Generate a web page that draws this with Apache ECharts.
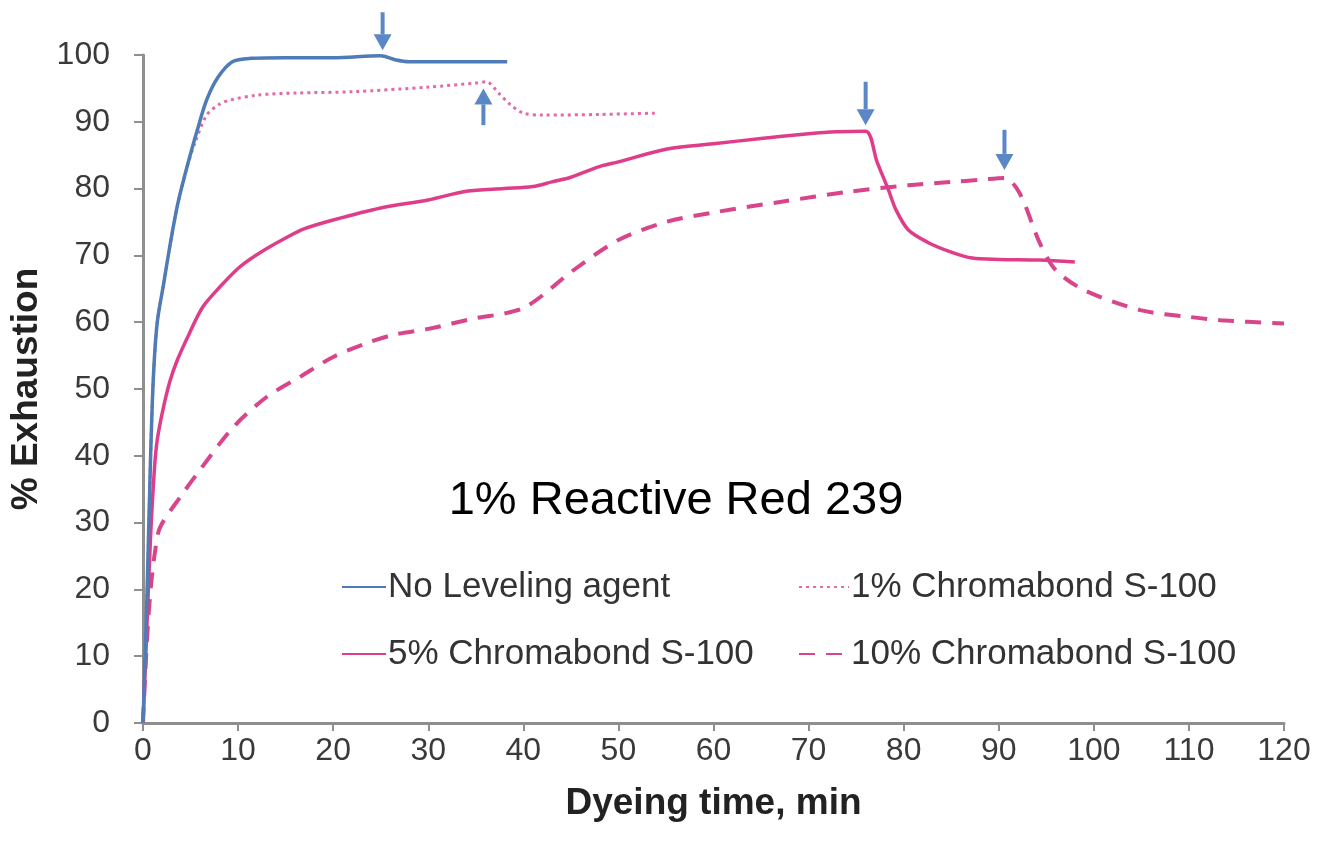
<!DOCTYPE html>
<html>
<head>
<meta charset="utf-8">
<script src="https://cdn.jsdelivr.net/npm/echarts@6/dist/echarts.min.js"></script>
<style>
  html, body { margin: 0; padding: 0; background: #fff; }
  #chart { width: 1325px; height: 849px; }
</style>
</head>
<body>
<div id="chart"></div>
<script>
// dyeing time (min) and % exhaustion
const noAgentTime = [0, 0.4, 0.8, 1.1, 1.5, 2.2, 2.9, 3.7, 4.9, 5.8, 6.7, 7.9, 9.4, 11.3, 15, 20, 25, 26.5, 28, 33, 38.3]
const noAgentVal = [0, 18, 40, 52, 60, 66, 72, 78, 84.7, 89.2, 93.3, 96.7, 99, 99.5, 99.6, 99.6, 99.9, 99.3, 99.0, 99.0, 99.0]

const pct1Time = [0, 0.4, 0.8, 1.1, 1.5, 2.2, 2.9, 3.7, 4.6, 5.5, 6.7, 8, 9, 12, 16, 22, 30, 35, 36.1, 37.4, 38.6, 40, 42, 48, 54]
const pct1Val = [0, 18, 40, 52, 60, 66, 72, 78, 83, 87, 91, 92.6, 93.2, 94, 94.3, 94.5, 95.2, 95.8, 96, 94.3, 92.6, 91.3, 91, 91.1, 91.3]

const pct5Time = [0, 0.4, 0.8, 1.2, 1.5, 2.1, 2.8, 3.6, 4.9, 6.3, 8.1, 10.2, 12.3, 15, 17, 20, 25, 30, 34, 38, 41, 43, 45, 48, 50, 55, 60, 65, 70, 73, 76, 77.2, 78.4, 79.2, 80.5, 82.6, 85, 87.2, 90, 94.3, 98]
const pct5Val = [0, 14, 28, 38, 42.4, 46.9, 51, 54.3, 58.4, 62.3, 65.3, 68.3, 70.4, 72.6, 74, 75.3, 77.1, 78.3, 79.6, 80, 80.3, 81, 81.7, 83.3, 84, 85.9, 86.7, 87.5, 88.2, 88.5, 88.6, 84, 79.8, 76.8, 73.8, 71.9, 70.5, 69.6, 69.4, 69.3, 69]

const pct10Time = [0, 0.4, 0.8, 1.3, 1.8, 4, 6, 9.5, 13, 16.5, 20, 23.6, 26.3, 30, 35, 38, 40, 42, 45, 50, 55, 60.3, 67, 74.1, 80.5, 85, 88, 90.6, 92.2, 94.3, 96, 99, 104.9, 110, 113.3, 120]
const pct10Val = [0, 12, 20, 26, 29.3, 34, 37.9, 44.3, 48.8, 51.8, 54.8, 56.9, 58.1, 59, 60.6, 61.3, 62.1, 64, 67.5, 72.3, 75, 76.5, 78, 79.5, 80.5, 81, 81.3, 81.6, 79.3, 71.9, 67.8, 64.8, 61.8, 60.8, 60.3, 59.8]

// arrows: [time, from, to]
const arrowData = [
  [25.2, 106.4, 100.7],
  [35.8, 89.5, 95.0],
  [76.0, 96.0, 89.5],
  [90.6, 88.8, 82.8]
]

const seriesNames = ['No Leveling agent', '1% Chromabond S-100', '5% Chromabond S-100', '10% Chromabond S-100']
const xTicks = { min: 0, max: 120, interval: 10 }
const yTicks = { min: 0, max: 100, interval: 10 }

const zip = (xs, ys) => xs.map((x, i) => [x, ys[i]])

const FONT = 'Liberation Sans, Arial, sans-serif'
const BLUE = '#4f7cb6'
const PINK = '#df3d8a'

const chart = echarts.init(document.getElementById('chart'))

// arrow = shaft + triangle head, placed with the axis scale
const renderArrow = (params, api) => {
  const p0 = api.coord([api.value(0), api.value(1)])
  const p1 = api.coord([api.value(0), api.value(2)])
  const dir = p1[1] > p0[1] ? 1 : -1
  const headLen = 16
  const headHalf = 9
  const baseY = p1[1] - dir * headLen
  return {
    type: 'group',
    children: [
      {
        type: 'line',
        shape: { x1: p0[0], y1: p0[1], x2: p1[0], y2: baseY },
        style: { stroke: '#5b87c6', lineWidth: 4 }
      },
      {
        type: 'polygon',
        shape: { points: [[p1[0] - headHalf, baseY], [p1[0] + headHalf, baseY], [p1[0], p1[1]]] },
        style: { fill: '#5b87c6' }
      }
    ]
  }
}

const legendBase = {
  orient: 'vertical',
  top: 569,
  padding: 0,
  itemHeight: 14,
  itemGap: 31,
  itemStyle: { opacity: 0, borderWidth: 0 },
  textStyle: { fontSize: 35, color: '#333', fontFamily: FONT, lineHeight: 36, padding: [0, 0, 0, -3] }
}

const option = {
  backgroundColor: '#fff',
  animation: false,
  textStyle: { fontFamily: FONT },
  grid: {
    left: 143,
    right: 41,
    top: 55,
    bottom: 126,
    containLabel: false
  },
  legend: [
    Object.assign({}, legendBase, {
      data: [seriesNames[0], seriesNames[2]],
      left: 341,
      itemWidth: 44
    }),
    Object.assign({}, legendBase, {
      data: [seriesNames[1], seriesNames[3]],
      left: 798,
      itemWidth: 50
    })
  ],
  xAxis: {
    type: 'value',
    min: xTicks.min,
    max: xTicks.max,
    interval: xTicks.interval,
    name: 'Dyeing time, min',
    nameLocation: 'middle',
    nameGap: 62,
    nameTextStyle: { fontSize: 37, fontWeight: 'bold', color: '#222', fontFamily: FONT },
    axisLine: { lineStyle: { color: '#8f8f8f', width: 3 } },
    axisTick: { show: true, length: 8, lineStyle: { color: '#8f8f8f', width: 2 } },
    axisLabel: { fontSize: 32, color: '#3a3a3a', margin: 12, fontFamily: FONT },
    splitLine: { show: false }
  },
  yAxis: {
    type: 'value',
    min: yTicks.min,
    max: yTicks.max,
    interval: yTicks.interval,
    name: '% Exhaustion',
    nameLocation: 'middle',
    nameGap: 98,
    nameTextStyle: { fontSize: 37, fontWeight: 'bold', color: '#222', fontFamily: FONT },
    axisLine: { show: true, lineStyle: { color: '#8f8f8f', width: 3 } },
    axisTick: { show: true, length: 9, lineStyle: { color: '#8f8f8f', width: 2 } },
    axisLabel: { fontSize: 32, color: '#3a3a3a', margin: 33, fontFamily: FONT },
    splitLine: { show: false }
  },
  graphic: [
    {
      type: 'text',
      x: 676,
      y: 501,
      style: {
        text: '1% Reactive Red 239',
        font: '47px ' + FONT,
        fill: '#000',
        textAlign: 'center',
        textVerticalAlign: 'middle'
      }
    }
  ],
  series: [
    {
      name: seriesNames[0],
      type: 'line',
      z: 4,
      data: zip(noAgentTime, noAgentVal),
      smooth: 0.3,
      showSymbol: false,
      symbol: 'none',
      itemStyle: { color: BLUE },
      lineStyle: { color: BLUE, width: 3.5 }
    },
    {
      name: seriesNames[1],
      type: 'line',
      z: 2,
      data: zip(pct1Time, pct1Val),
      smooth: 0.3,
      showSymbol: false,
      symbol: 'none',
      itemStyle: { color: '#e36aa8' },
      lineStyle: { color: '#e36aa8', width: 3, type: [3, 4] }
    },
    {
      name: seriesNames[2],
      type: 'line',
      z: 3,
      data: zip(pct5Time, pct5Val),
      smooth: 0.3,
      showSymbol: false,
      symbol: 'none',
      itemStyle: { color: PINK },
      lineStyle: { color: PINK, width: 3.5 }
    },
    {
      name: seriesNames[3],
      type: 'line',
      z: 2,
      data: zip(pct10Time, pct10Val),
      smooth: 0.3,
      showSymbol: false,
      symbol: 'none',
      itemStyle: { color: '#d8458b' },
      lineStyle: { color: '#d8458b', width: 4, type: [16, 11] }
    },
    {
      name: 'arrows',
      type: 'custom',
      z: 5,
      silent: true,
      clip: false,
      renderItem: renderArrow,
      encode: { x: 0, y: [1, 2] },
      data: arrowData
    }
  ]
}

chart.setOption(option)
</script>
</body>
</html>
